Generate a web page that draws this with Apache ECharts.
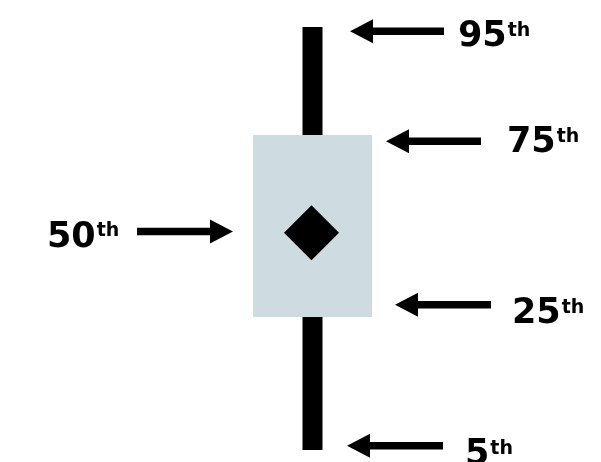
<!DOCTYPE html>
<html>
<head>
<meta charset="utf-8">
<script src="https://cdn.jsdelivr.net/npm/echarts@6/dist/echarts.min.js"></script>
<style>
  html, body { margin: 0; padding: 0; background: #fff; }
  #chart_container { width: 601px; height: 462px; }
</style>
</head>
<body>
<div id="chart_container"></div>
<script>
// percentile names, lowest first
var percentileNames = ['5th', '25th', '50th', '75th', '95th']
// where the box plot puts each percentile (schematic)
var boxLevels = [5, 33.3, 51.2, 72.0, 95]
// level each arrow points at
var arrowLevels = [5.9, 35.9, 51.5, 70.7, 94.1]

// arrow / label placement, offsets from the box centre (px)
var arrowLayout = [
  { tip: 34.5, tail: 130.5, textX: 152.5, textDy: 20 }, // 5th
  { tip: 82.5, tail: 178.5, textX: 199.5, textDy: 20 }, // 25th
  { tip: -79.5, tail: -175.5, textX: -265.5, textDy: 16.5 }, // 50th
  { tip: 73.5, tail: 168.5, textX: 194.5, textDy: 12 }, // 75th
  { tip: 37.5, tail: 131.5, textX: 145.5, textDy: 16 } // 95th
]

var BOX_HALF = 59.5
var WHISKER_HALF = 10
var DIAMOND_HALF = 27.5

function arrowShape (cx, y, lay) {
  var tip = cx + lay.tip
  var tail = cx + lay.tail
  var d = tail > tip ? 1 : -1
  var back = tip + d * 23
  return [
    [tip, y], [back, y - 12], [back, y - 3.75], [tail, y - 3.75],
    [tail, y + 3.75], [back, y + 3.75], [back, y + 12]
  ]
}

function renderBox (params, api) {
  var cx = api.coord([api.value(0), api.value(3)])[0]
  var y5 = api.coord([0, api.value(1)])[1]
  var y25 = api.coord([0, api.value(2)])[1]
  var y50 = api.coord([0, api.value(3)])[1]
  var y75 = api.coord([0, api.value(4)])[1]
  var y95 = api.coord([0, api.value(5)])[1]
  var children = [
    { type: 'rect', shape: { x: cx - BOX_HALF, y: y75, width: BOX_HALF * 2, height: y25 - y75 }, style: { fill: '#cedbe0' } },
    { type: 'rect', shape: { x: cx - WHISKER_HALF, y: y95, width: WHISKER_HALF * 2, height: y75 - y95 }, style: { fill: '#000' } },
    { type: 'rect', shape: { x: cx - WHISKER_HALF, y: y25, width: WHISKER_HALF * 2, height: y5 - y25 }, style: { fill: '#000' } },
    {
      type: 'polygon',
      shape: { points: [[cx - 1, y50 - DIAMOND_HALF], [cx - 1 + DIAMOND_HALF, y50], [cx - 1, y50 + DIAMOND_HALF], [cx - 1 - DIAMOND_HALF, y50]] },
      style: { fill: '#000' }
    }
  ]
  // arrows and labels
  percentileNames.forEach(function (name, i) {
    var lay = arrowLayout[i]
    var ay = api.coord([0, arrowLevels[i]])[1]
    children.push({ type: 'polygon', shape: { points: arrowShape(cx, ay, lay) }, style: { fill: '#000' } })
    var num = name.replace('th', '')
    children.push({
      type: 'text',
      style: {
        x: cx + lay.textX,
        y: ay + lay.textDy - 28,
        text: '{n|' + num + '}{s|th}',
        verticalAlign: 'top',
        align: 'left',
        rich: {
          n: { fontFamily: 'DejaVu Sans', fontWeight: 'bold', fontSize: 35, lineHeight: 35, fill: '#000' },
          s: { fontFamily: 'DejaVu Sans', fontWeight: 'bold', fontSize: 19, lineHeight: 19, verticalAlign: 'top', padding: [2, 0, 0, 1], fill: '#000' }
        }
      }
    })
  })
  return { type: 'group', children: children }
}

var chart = echarts.init(document.getElementById('chart_container'))
chart.setOption({
  animation: false,
  grid: { left: 24, right: 0, top: 27, bottom: 12 },
  xAxis: { type: 'category', data: ['box'], show: false },
  yAxis: { type: 'value', min: 5, max: 95, show: false },
  series: [{
    type: 'custom',
    renderItem: renderBox,
    encode: { x: 0, y: [1, 2, 3, 4, 5] },
    data: [[0].concat(boxLevels)]
  }]
})
</script>
</body>
</html>
